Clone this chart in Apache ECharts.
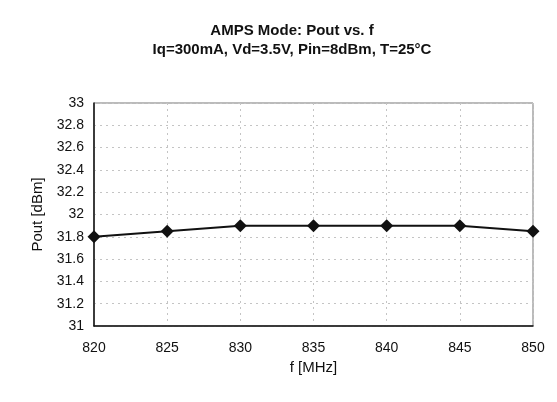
<!DOCTYPE html>
<html><head><meta charset="utf-8">
<script src="https://cdn.jsdelivr.net/npm/echarts@6/dist/echarts.min.js"></script>
<style>html,body{margin:0;padding:0;background:#fff}#c{width:557px;height:402px}</style>
</head><body><div id="c"></div>
<script>
const freqs = [820, 825, 830, 835, 840, 845, 850];
const pout = [31.8, 31.85, 31.9, 31.9, 31.9, 31.9, 31.85];
const titleText = 'AMPS Mode: Pout vs. f';
const subText = 'Iq=300mA, Vd=3.5V, Pin=8dBm, T=25°C';

const chart = echarts.init(document.getElementById('c'));
chart.setOption({
  animation: false,
  backgroundColor: '#fff',
  title: {
    text: titleText + '\n' + subText,
    left: 287, top: 16, textAlign: 'center',
    textStyle: {fontFamily: 'Liberation Sans', fontSize: 15, fontWeight: 'bold', color: '#111', lineHeight: 19}
  },
  grid: {left: 94, right: 24, top: 103, bottom: 76, show: true, borderColor: '#777', borderWidth: 1},
  xAxis: {
    type: 'value', min: 820, max: 850, interval: 5,
    name: 'f [MHz]', nameLocation: 'middle', nameGap: 33,
    nameTextStyle: {fontFamily: 'Liberation Sans', fontSize: 15, color: '#111'},
    axisLine: {show: true, onZero: false, lineStyle: {color: '#111', width: 1.5}},
    axisTick: {show: false},
    axisLabel: {fontFamily: 'Liberation Sans', fontSize: 14, color: '#111', margin: 15},
    splitLine: {show: true, lineStyle: {color: '#c4c4c4', type: [2, 4], width: 1}}
  },
  yAxis: {
    type: 'value', min: 31, max: 33, interval: 0.2,
    name: 'Pout [dBm]', nameLocation: 'middle', nameGap: 47,
    nameTextStyle: {fontFamily: 'Liberation Sans', fontSize: 15, color: '#111'},
    axisLine: {show: true, lineStyle: {color: '#111', width: 1.5}},
    axisTick: {show: false},
    axisLabel: {fontFamily: 'Liberation Sans', fontSize: 14, color: '#111', margin: 10,
      formatter: v => String(Math.round(v * 10) / 10)},
    splitLine: {show: true, lineStyle: {color: '#c4c4c4', type: [2, 4], width: 1}}
  },
  series: [{
    type: 'line',
    data: freqs.map((f, i) => [f, pout[i]]),
    symbol: 'diamond', symbolSize: 13,
    lineStyle: {color: '#111', width: 2},
    itemStyle: {color: '#111'}
  }]
});
</script></body></html>
